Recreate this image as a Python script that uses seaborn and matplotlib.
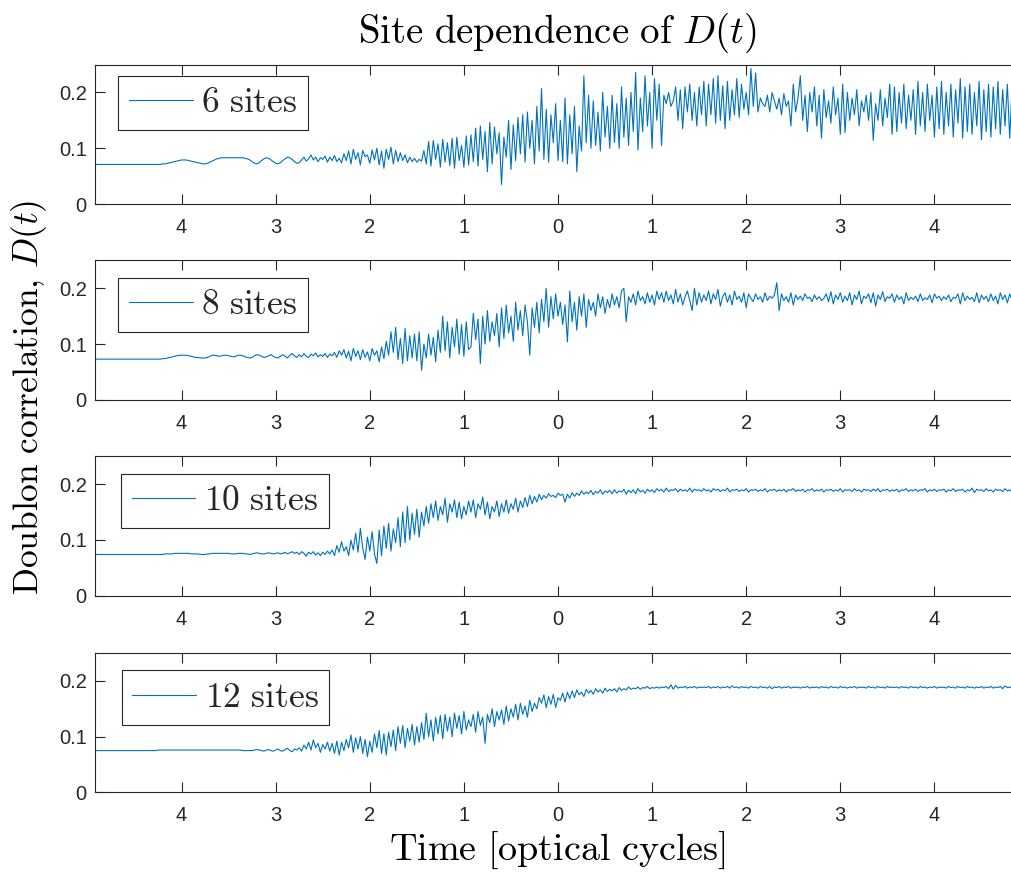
import numpy as np
import matplotlib
matplotlib.use("Agg")
import matplotlib.pyplot as plt
import seaborn as sns

# ---------------- data (doublon correlation, in units of 1e-3) ----------------
t_start = -4.925
t_step = 0.025

d6 = [
71,71,71,71,71,71,71,71,71,71,71,71,71,71,71,71,71,71,71,71,
71,71,71,71,71,71,71,71,71,72,72,73,74,75,76,77,78,79,79,79,
78,77,76,75,74,73,72,72,73,75,77,79,81,82,83,83,83,83,83,83,
83,83,83,83,82,81,79,76,73,72,74,78,81,83,82,79,76,73,72,74,
78,81,84,83,80,76,73,74,79,84,77,81,88,79,84,76,83,80,86,75,
84,78,87,76,82,74,90,78,95,72,98,80,92,70,96,85,88,73,97,79,
100,70,95,64,98,80,102,72,96,76,92,78,88,74,84,76,82,75,80,77,
96,72,112,68,114,80,108,66,116,75,110,69,118,64,120,78,105,66,122,70,
124,76,136,68,140,80,130,58,146,72,138,90,128,35,120,84,150,62,142,78,
155,90,160,75,165,100,150,72,175,95,207,80,170,75,160,110,180,78,150,76,
190,72,160,90,175,58,140,95,230,110,195,100,185,105,165,95,200,120,175,100,
195,110,180,100,210,120,190,105,200,130,236,97,190,130,230,140,200,100,225,150,
215,105,195,180,200,175,185,210,150,205,135,210,165,215,150,200,140,210,160,220,
140,215,160,225,145,230,150,212,135,220,150,205,160,225,155,215,170,200,160,243,
175,235,165,190,180,175,195,165,200,185,170,190,160,198,175,185,140,215,165,190,
230,150,195,130,200,165,210,140,195,118,205,155,185,145,210,160,190,125,215,128,
200,150,190,160,205,140,185,165,195,150,200,114,180,150,205,140,190,155,215,125,
210,130,200,145,215,135,195,150,205,125,220,140,200,130,215,150,195,120,210,135,
220,125,200,140,215,120,205,145,225,118,210,130,215,125,200,140,220,115,205,130,
215,120,210,135,220,125,205,140,215,118,210,130,200,
]

d8 = [
73,73,73,73,73,73,73,73,73,73,73,73,73,73,73,73,73,73,73,73,
73,73,73,73,73,73,73,73,73,74,74,75,76,77,78,79,80,80,80,80,
79,78,77,76,76,75,75,75,76,78,80,80,79,78,79,80,80,79,78,77,
78,80,80,79,77,76,75,76,79,81,80,78,76,77,79,81,78,76,75,78,
81,78,75,80,83,79,76,81,77,83,78,76,82,79,84,77,81,78,83,76,
82,79,85,76,88,80,90,75,87,70,92,78,88,72,90,76,86,70,92,80,
88,68,95,74,105,80,122,85,130,72,110,65,128,70,115,75,118,70,122,53,
100,75,118,80,112,68,125,85,150,88,140,75,130,95,145,82,135,78,140,90,
95,155,108,145,65,150,100,160,105,140,115,155,95,165,110,170,120,150,105,175,
125,160,115,170,140,80,165,130,175,120,180,140,200,130,185,145,190,150,175,135,
170,104,195,140,175,125,185,150,190,130,180,160,175,150,190,165,185,155,180,165,
190,170,185,165,195,200,140,185,175,190,170,195,178,185,172,192,175,188,170,195,
180,192,175,195,178,188,172,198,175,190,170,185,195,178,160,200,170,192,175,188,
178,195,172,190,180,198,168,185,192,175,188,170,195,180,186,175,192,165,190,182,
176,190,180,185,175,192,178,186,182,188,210,160,190,178,185,175,192,170,188,180,
186,178,190,182,184,176,188,180,185,178,182,190,176,194,172,188,180,192,175,186,
178,192,170,188,180,195,172,186,182,190,174,192,168,188,180,194,176,185,182,190,
175,188,180,185,172,192,178,184,180,186,176,190,178,183,180,188,174,190,182,186,
178,185,180,188,176,184,182,190,172,192,178,186,180,184,176,192,174,188,180,186,
176,190,178,186,172,192,180,188,174,190,178,186,180,
]

d10 = [
74,74,74,74,74,74,74,74,74,74,74,74,74,74,74,74,74,74,74,74,
74,74,74,74,74,74,74,74,74,74,75,75,75,75,76,76,76,76,76,76,
76,75,75,75,75,74,74,74,75,75,76,76,76,76,76,76,76,76,75,75,
75,76,76,76,75,75,74,75,76,77,76,75,75,76,77,76,75,76,77,75,
76,78,75,77,79,76,78,74,79,76,71,78,75,79,73,77,72,78,74,80,
75,82,72,90,78,97,80,88,72,100,82,112,78,121,85,65,105,80,115,75,
58,118,72,125,85,130,80,120,95,140,88,150,95,160,100,148,110,155,105,150,
125,160,130,165,140,170,135,160,145,175,132,165,150,172,140,168,138,160,145,170,
150,172,140,165,155,177,145,168,138,160,150,170,142,165,150,172,148,165,155,175,
150,170,158,176,160,180,165,178,168,182,172,180,175,183,178,180,176,184,180,182,
168,182,175,185,178,184,180,188,182,186,183,189,181,187,184,190,182,188,185,189,
183,190,184,188,186,191,182,189,185,190,183,192,186,189,184,191,187,190,185,192,
188,191,186,193,187,190,189,192,186,191,188,190,187,193,186,191,189,190,187,192,
188,190,186,192,189,191,187,190,188,193,186,190,189,191,187,190,188,192,186,190,
189,191,187,190,188,192,186,190,189,191,187,190,188,191,186,190,189,192,187,190,
188,191,186,190,189,192,187,190,188,191,186,190,189,191,187,190,188,192,186,190,
189,190,187,192,188,190,186,191,189,190,187,191,188,192,186,190,189,191,187,190,
188,191,186,190,189,192,187,190,188,191,187,190,189,192,186,190,188,191,187,190,
189,191,186,190,188,192,187,190,189,191,186,190,188,193,185,191,189,190,187,192,
188,190,186,191,189,190,187,192,188,190,186,191,189,
]

d12 = [
75,75,75,75,75,75,75,75,75,75,75,75,75,75,75,75,75,75,75,75,
75,75,75,75,75,75,75,76,76,76,76,76,76,76,76,76,76,76,76,76,
76,76,76,76,76,76,76,76,76,76,76,76,76,76,76,76,76,76,76,76,
76,76,76,75,75,75,75,75,76,77,76,75,74,76,77,75,74,76,78,75,
74,77,79,75,73,78,76,80,74,85,78,90,76,94,80,88,72,86,78,90,
74,88,70,92,67,90,75,95,80,103,72,98,78,100,70,95,64,92,72,105,
80,111,70,105,67,108,82,112,75,118,88,120,80,115,92,122,85,118,90,125,
95,142,100,130,92,135,105,138,96,140,110,135,100,142,115,138,105,145,112,130,
118,140,108,145,120,135,88,140,125,150,118,145,130,148,122,155,128,150,135,158,
130,160,140,155,135,165,145,160,150,170,160,175,152,172,158,176,152,170,165,178,
162,180,168,182,170,184,175,180,172,185,178,183,176,186,180,184,178,187,181,185,
182,186,180,188,183,186,184,189,185,187,186,189,185,188,187,190,186,188,187,189,
187,189,188,190,186,193,185,192,187,189,188,190,187,189,188,190,187,189,188,189,
188,190,187,189,188,190,187,189,188,190,187,191,188,189,187,190,188,189,187,190,
188,189,187,190,188,189,187,190,186,189,188,190,187,189,188,190,187,189,188,189,
187,189,188,190,187,189,188,189,187,190,188,189,187,190,188,189,187,190,188,189,
187,189,188,190,187,189,188,189,187,190,188,189,187,190,188,189,187,190,188,189,
188,189,187,190,188,189,187,190,188,189,187,190,188,189,187,189,188,190,187,189,
188,189,187,190,188,189,187,190,188,189,187,190,188,189,187,189,188,190,187,189,
188,190,187,189,188,190,186,191,188,189,187,190,188,
]

series = [d6, d8, d10, d12]
labels = ["6", "8", "10", "12"]
xtick_pos = [-4, -3, -2, -1, 0, 1, 2, 3, 4]
xtick_labels = ["4", "3", "2", "1", "0", "1", "2", "3", "4"]
ytick_pos = [0, 0.1, 0.2]
ytick_labels = ["0", "0.1", "0.2"]

# ---------------- style ----------------
sns.set_style("ticks")
plt.rcParams["font.family"] = ["Liberation Sans", "DejaVu Sans"]
plt.rcParams["mathtext.fontset"] = "cm"

line_color = "#0072BD"
axc = "#262626"

fig = plt.figure(figsize=(10.12, 8.73), dpi=100)
left, width, height = 0.09387, 0.91502, 0.1597
bottoms = [0.7663, 0.5420, 0.3176, 0.0923]
leg_anchor = [(0.025, 0.921), (0.025, 0.876), (0.028, 0.876), (0.029, 0.876)]

for k, (vals, lab) in enumerate(zip(series, labels)):
    ax = fig.add_axes([left, bottoms[k], width, height])
    y = np.array(vals) / 1000.0
    t = t_start + t_step * np.arange(len(y))
    sns.lineplot(x=t, y=y, ax=ax, color=line_color, linewidth=0.8,
                 label=r"$\mathrm{%s\ sites}$" % lab)
    ax.set_xlim(-4.92, 4.92)
    ax.set_ylim(0, 0.25)
    ax.set_xticks(xtick_pos)
    ax.set_xticklabels(xtick_labels)
    ax.set_yticks(ytick_pos)
    ax.set_yticklabels(ytick_labels)
    ax.tick_params(direction="in", length=7, width=0.8, colors=axc,
                   labelsize=14.5, top=True, right=True, pad=10)
    ax.tick_params(axis="y", pad=6)
    for s in ax.spines.values():
        s.set_visible(True)
        s.set_color(axc)
        s.set_linewidth(0.8)
    ax.set_xlabel("")
    ax.set_ylabel("")
    leg = ax.legend(loc="upper left", bbox_to_anchor=leg_anchor[k],
                    borderaxespad=0, fontsize=25.5, handlelength=1.8,
                    handletextpad=0.25, borderpad=0.3, fancybox=False,
                    framealpha=1, edgecolor=axc)
    leg.get_frame().set_linewidth(0.8)

fig.text(0.551, 0.962, r"$\mathrm{Site\ dependence\ of\ }D(t)$",
         ha="center", va="center", fontsize=28, color="black")
fig.text(0.551, 0.026, r"$\mathrm{Time\ [optical\ cycles]}$",
         ha="center", va="center", fontsize=27.5, color="black")
fig.text(0.029, 0.545, r"$\mathrm{Doublon\ correlation{,}\ }D(t)$",
         ha="center", va="center", rotation=90, fontsize=25.5, color="black")

fig.savefig("out.png", dpi=100)
